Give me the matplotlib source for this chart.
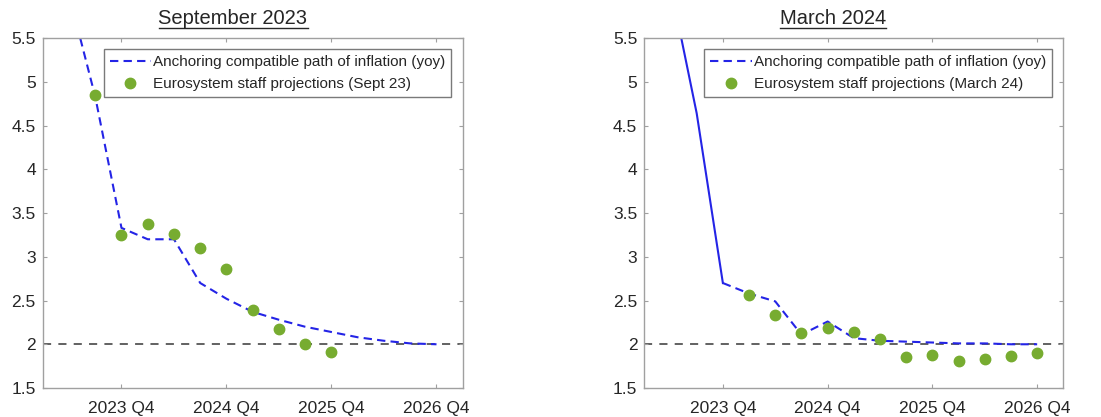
import matplotlib
matplotlib.use("Agg")
import matplotlib.pyplot as plt
from matplotlib.lines import Line2D

plt.rcParams['font.family'] = ['Liberation Sans', 'DejaVu Sans']

# Quarter axis: index 0 = 2023 Q1
quarters = ['2023 Q1', '2023 Q2', '2023 Q3', '2023 Q4',
            '2024 Q1', '2024 Q2', '2024 Q3', '2024 Q4',
            '2025 Q1', '2025 Q2', '2025 Q3', '2025 Q4',
            '2026 Q1', '2026 Q2', '2026 Q3', '2026 Q4', '2027 Q1']
tick_labels = ['2023 Q4', '2024 Q4', '2025 Q4', '2026 Q4']

# September 2023 panel
sep_path_q = quarters[1:16]
sep_path = [6.0, 4.83, 3.33, 3.20, 3.20, 2.70, 2.52, 2.37, 2.28, 2.20, 2.14, 2.08, 2.04, 2.01, 2.00]
sep_proj_q = quarters[2:12]
sep_proj = [4.85, 3.25, 3.37, 3.26, 3.10, 2.86, 2.39, 2.17, 2.00, 1.91]

# March 2024 panel
mar_hist_q = quarters[1:4]
mar_hist = [6.1, 4.64, 2.70]
mar_path_q = quarters[3:16]
mar_path = [2.70, 2.58, 2.49, 2.11, 2.26, 2.07, 2.04, 2.03, 2.02, 2.01, 2.01, 2.00, 2.00]
mar_proj_q = quarters[4:16]
mar_proj = [2.56, 2.33, 2.13, 2.19, 2.14, 2.06, 1.86, 1.88, 1.81, 1.83, 1.87, 1.90]

target = 2.0

BLUE = '#2424e6'
GREEN = '#77ac30'
GRAY_LINE = '#555555'
SPINE = '#a0a0a0'
TXT = '#262626'

qidx = {q: i for i, q in enumerate(quarters)}

fig = plt.figure(figsize=(11.01, 4.17), dpi=100)
ax1 = fig.add_axes([0.0388, 0.0695, 0.3815, 0.8393])
ax2 = fig.add_axes([0.5852, 0.0695, 0.3806, 0.8393])


def style(ax):
    ax.set_xlim(0, 16)
    ax.set_ylim(1.5, 5.5)
    ax.set_xticks([qidx[t] for t in tick_labels])
    ax.set_xticklabels(tick_labels)
    ax.set_yticks([1.5, 2, 2.5, 3, 3.5, 4, 4.5, 5, 5.5])
    ax.set_yticklabels(['1.5', '2', '2.5', '3', '3.5', '4', '4.5', '5', '5.5'])
    ax.tick_params(direction='in', length=3, width=0.8, color=SPINE,
                   top=True, right=True, labelsize=12.5, labelcolor=TXT)
    ax.tick_params(axis='x', pad=9)
    ax.tick_params(axis='y', pad=5)
    for s in ax.spines.values():
        s.set_color(SPINE)
        s.set_linewidth(1.0)
    ax.axhline(target, color=GRAY_LINE, lw=1.3, linestyle=(0, (4.5, 4)), zorder=1)


# Left
style(ax1)
ax1.plot([qidx[q] for q in sep_path_q], sep_path, color=BLUE, lw=1.5,
         linestyle=(0, (4, 2.5)), label='Anchoring compatible path of inflation (yoy)', zorder=2)
ax1.plot([qidx[q] for q in sep_proj_q], sep_proj, 'o', color=GREEN, ms=7.5, mec=GREEN,
         label='Eurosystem staff projections (Sept 23)', zorder=3)

# Right
style(ax2)
ax2.plot([qidx[q] for q in mar_hist_q], mar_hist, color=BLUE, lw=1.5, linestyle='-', zorder=2)
ax2.plot([qidx[q] for q in mar_path_q], mar_path, color=BLUE, lw=1.5,
         linestyle=(0, (4, 2.5)), label='Anchoring compatible path of inflation (yoy)', zorder=2)
ax2.plot([qidx[q] for q in mar_proj_q], mar_proj, 'o', color=GREEN, ms=7.5, mec=GREEN,
         label='Eurosystem staff projections (March 24)', zorder=3)

for ax in (ax1, ax2):
    leg = ax.legend(loc='upper right', bbox_to_anchor=(1.0, 1.0), borderaxespad=0.75,
                    fontsize=11, frameon=True, fancybox=False, framealpha=1,
                    edgecolor='#7a7a7a', handlelength=2.7, handletextpad=0.15,
                    labelspacing=0.5, borderpad=0.38, labelcolor=TXT)
    leg.get_frame().set_linewidth(1.0)

# Underlined titles
titles = [('September 2023', 233 / 1101), ('March 2024', 833 / 1101)]
ty = 1 - 19 / 417
txts = []
for s, x in titles:
    txts.append(fig.text(x, ty, s, ha='center', va='center', fontsize=14.5, color=TXT))

fig.canvas.draw()
renderer = fig.canvas.get_renderer()
W, H = fig.bbox.width, fig.bbox.height
for t in txts:
    bb = t.get_window_extent(renderer)
    yline = (bb.y0 + 0.5) / H
    fig.add_artist(Line2D([bb.x0 / W, bb.x1 / W], [yline, yline],
                          transform=fig.transFigure, color=TXT, lw=1.0))

fig.savefig('out.png', dpi=100)
